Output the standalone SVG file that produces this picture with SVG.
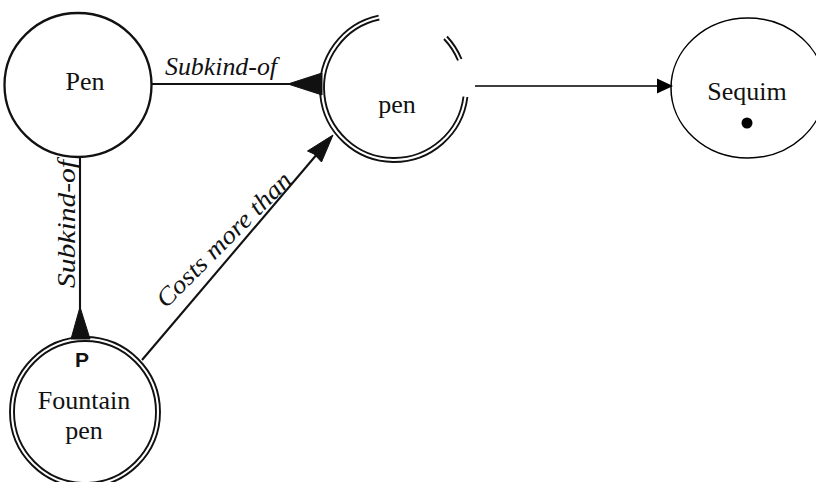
<svg xmlns="http://www.w3.org/2000/svg" width="816" height="482" viewBox="0 0 816 482">
  <style>
    .node { fill: none; stroke: #111; stroke-width: 2.3; }
    .dbl { fill: none; stroke: #111; stroke-width: 1.9; }
    .edge { fill: none; stroke: #111; stroke-width: 2.1; }
    .thin { fill: none; stroke: #000; stroke-width: 1.5; }
    .head { fill: #111; stroke: #111; stroke-width: 1; stroke-linejoin: round; }
    .lbl { font-family: "Liberation Serif", "Times New Roman", serif; font-size: 26px; fill: #111; text-anchor: middle; }
    .rel { font-family: "Liberation Serif", "Times New Roman", serif; font-size: 25px; font-style: italic; fill: #111; }
    .mark { font-family: "Liberation Sans", Arial, sans-serif; font-size: 21px; font-weight: bold; fill: #111; text-anchor: middle; }
  </style>

  <rect width="816" height="482" fill="#fff"/>

  <!-- connectors -->
  <g id="connectors">
    <!-- Pen -> pen : Subkind-of -->
    <line class="edge" x1="151" y1="84" x2="292" y2="84"/>
    <polygon class="head" points="288,84 322,73 322,95"/>
    <text class="rel" x="165" y="75" textLength="112" lengthAdjust="spacingAndGlyphs">Subkind-of</text>

    <!-- Pen -> Fountain pen : Subkind-of -->
    <line class="edge" x1="80" y1="157" x2="80" y2="310"/>
    <polygon class="head" points="80,307 71,339 90,339"/>
    <text class="rel" transform="translate(75,288) rotate(-90)" textLength="128" lengthAdjust="spacingAndGlyphs">Subkind-of</text>

    <!-- Fountain pen -> pen : Costs more than -->
    <line class="edge" x1="142" y1="360" x2="318" y2="153"/>
    <polygon class="head" points="333,135 321.5,162 314,154 307.5,151"/>
    <text class="rel" transform="translate(166,309) rotate(-45)" textLength="180" lengthAdjust="spacingAndGlyphs">Costs more than</text>

    <!-- pen -> Sequim -->
    <line class="thin" x1="475" y1="86" x2="660" y2="86"/>
    <polygon points="673,86 657,78.5 657,93.5" fill="#000"/>
  </g>

  <!-- nodes -->
  <g id="node-pen-type">
    <ellipse class="node" cx="78" cy="85" rx="73.5" ry="72"/>
    <text class="lbl" x="85" y="90">Pen</text>
  </g>

  <g id="node-pen">
    <path class="dbl" d="M467.4,97 A74,74 0 1 1 378.6,15.6 M463.5,96.5 A70,70 0 1 1 379.4,19.5"/>
    <path class="dbl" d="M447,36.5 A74,74 0 0 1 461.5,59 M444,39 A70,70 0 0 1 458,60.5"/>
    <text class="lbl" x="397" y="113">pen</text>
  </g>

  <g id="node-fountain-pen">
    <circle class="dbl" cx="85" cy="412" r="75"/>
    <circle class="dbl" cx="85" cy="412" r="71"/>
    <text class="mark" x="82" y="367">P</text>
    <text class="lbl" x="84" y="409" font-size="25">Fountain</text>
    <text class="lbl" x="84" y="439" font-size="25">pen</text>
  </g>

  <g id="node-sequim">
    <ellipse class="thin" cx="748" cy="88" rx="77" ry="70" stroke-width="2"/>
    <text class="lbl" x="747" y="100">Sequim</text>
    <circle cx="747" cy="123" r="5.5" fill="#000"/>
  </g>
</svg>
